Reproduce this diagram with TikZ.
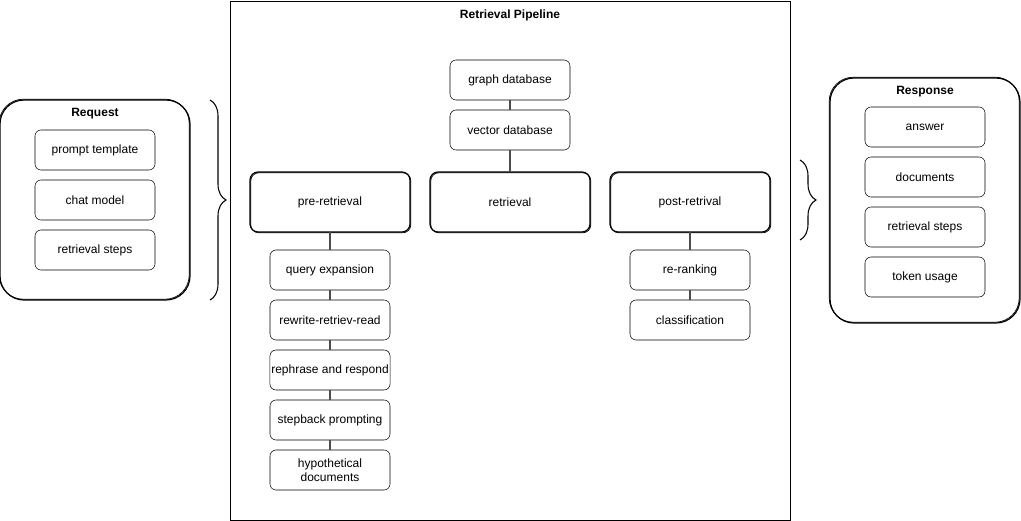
\documentclass[tikz,border=0pt]{standalone}
\usepackage{fontspec}
\setmainfont{Liberation Sans}
\usetikzlibrary{positioning,decorations.pathreplacing}

\begin{document}
\begin{tikzpicture}[x=0.75pt, y=-0.75pt, node distance=7.5pt,
      item/.style={draw, rounded corners=4.5pt, align=center, minimum width=90pt, minimum height=30pt,
                   inner sep=1pt, outer sep=0pt, font=\fontsize{9}{10.5}\selectfont},
      stage/.style={draw, line width=0.9pt, rounded corners=6pt, minimum width=120pt, minimum height=45pt,
                    outer sep=0pt, font=\fontsize{9}{10.5}\selectfont,
                    preaction={draw, line width=0.5pt, transform canvas={shift={(0.6pt,-0.6pt)}}}},
      grp/.style={draw, line width=0.9pt, rounded corners=18pt,
                  preaction={draw, line width=0.5pt, transform canvas={shift={(-0.6pt,0.6pt)}}}},
      ttl/.style={font=\bfseries\fontsize{9}{10.5}\selectfont},
      link/.style={gray!60!black, line width=0.8pt},
      brc/.style={decorate, decoration={brace, amplitude=12pt}, line width=0.8pt}]
    \useasboundingbox (0,0) rectangle (1021,521);

    % retrieval pipeline frame
    \node[draw, minimum width=420pt, minimum height=389pt] (pipe) at (510,260.5) {};
    \node[ttl] (pipettl) at (510,15) {Retrieval Pipeline};

    % stores
    \node[item] (graph) at (510,80) {graph database};
    \node[item, below=of graph] (vector) {vector database};

    % stages
    \node[stage] (pre) at (330,202) {pre-retrieval};
    \node[stage] (ret) at (510,202) {retrieval};
    \node[stage] (post) at (690,202) {post-retrival};

    \node[item] (q1) at (330,270) {query expansion};
    \node[item, below=of q1] (q2) {rewrite-retriev-read};
    \node[item, below=of q2] (q3) {rephrase and respond};
    \node[item, below=of q3] (q4) {stepback prompting};
    \node[item, below=of q4] (q5) {hypothetical\\documents};

    \node[item] (r1) at (690,270) {re-ranking};
    \node[item, below=of r1] (r2) {classification};

    \draw[link] (graph) -- (vector);
    \draw[link] (vector) -- (ret);
    \draw[link] (pre) -- (q1);
    \foreach \a/\b in {q1/q2,q2/q3,q3/q4,q4/q5} \draw[link] (\a) -- (\b);
    \draw[link] (post) -- (r1);
    \draw[link] (r1) -- (r2);

    % request
    \node[grp, minimum width=142.5pt, minimum height=150pt] (req) at (95,200) {};
    \node[ttl] (reqttl) at (95,114) {Request};
    \node[item] (p1) at (95,150) {prompt template};
    \node[item, below=of p1] (p2) {chat model};
    \node[item, below=of p2] (p3) {retrieval steps};

    % response
    \node[grp, minimum width=142.5pt, minimum height=183.75pt] (resp) at (925,200.5) {};
    \node[ttl] (respttl) at (925,92) {Response};
    \node[item] (a1) at (925,127) {answer};
    \node[item, below=of a1] (a2) {documents};
    \node[item, below=of a2] (a3) {retrieval steps};
    \node[item, below=of a3] (a4) {token usage};

    % braces
    \coordinate (lb1) at (210,100);
    \coordinate (lb2) at (210,300);
    \coordinate (rb1) at (800,160);
    \coordinate (rb2) at (800,240);
    \draw[brc] (lb1) -- (lb2);
    \draw[brc] (rb1) -- (rb2);
\end{tikzpicture}
\end{document}
